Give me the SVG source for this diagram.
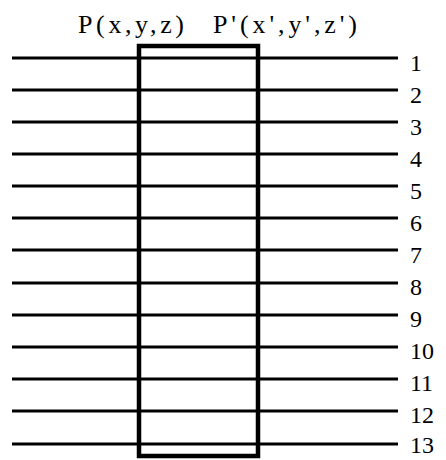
<svg xmlns="http://www.w3.org/2000/svg" width="446" height="460" viewBox="0 0 446 460">
<style>
.ln{stroke:#000;stroke-width:2.8;fill:none}
.box{stroke:#000;stroke-width:4.5;fill:none}
</style>
<rect width="446" height="460" fill="#fff"/>
<g id="connectors">
<line class="ln" x1="12" y1="58" x2="398" y2="58"/>
<line class="ln" x1="12" y1="90" x2="398" y2="90"/>
<line class="ln" x1="12" y1="122" x2="398" y2="122"/>
<line class="ln" x1="12" y1="154" x2="398" y2="154"/>
<line class="ln" x1="12" y1="186" x2="398" y2="186"/>
<line class="ln" x1="12" y1="218" x2="398" y2="218"/>
<line class="ln" x1="12" y1="250" x2="398" y2="250"/>
<line class="ln" x1="12" y1="283" x2="398" y2="283"/>
<line class="ln" x1="12" y1="315" x2="398" y2="315"/>
<line class="ln" x1="12" y1="347" x2="398" y2="347"/>
<line class="ln" x1="12" y1="379" x2="398" y2="379"/>
<line class="ln" x1="12" y1="411" x2="398" y2="411"/>
<line class="ln" x1="12" y1="444" x2="398" y2="444"/>
</g>
<g id="box">
<rect class="box" x="139" y="46" width="119" height="410"/>
</g>
<g id="title" font-family="'Liberation Serif', 'Times New Roman', serif" font-size="26" fill="#000">
<text x="78" y="33" textLength="106" lengthAdjust="spacing">P(x,y,z)</text>
<text x="213" y="33" textLength="144" lengthAdjust="spacing">P'(x',y',z')</text>
</g>
<g id="labels" font-family="'Liberation Serif', 'Times New Roman', serif" font-size="24" fill="#000">
<text x="410" y="71">1</text>
<text x="410" y="103">2</text>
<text x="410" y="135">3</text>
<text x="410" y="167">4</text>
<text x="410" y="199">5</text>
<text x="410" y="231">6</text>
<text x="410" y="263">7</text>
<text x="410" y="295">8</text>
<text x="410" y="327">9</text>
<text x="410" y="359">10</text>
<text x="410" y="391">11</text>
<text x="410" y="423">12</text>
<text x="410" y="453">13</text>
</g>
</svg>
